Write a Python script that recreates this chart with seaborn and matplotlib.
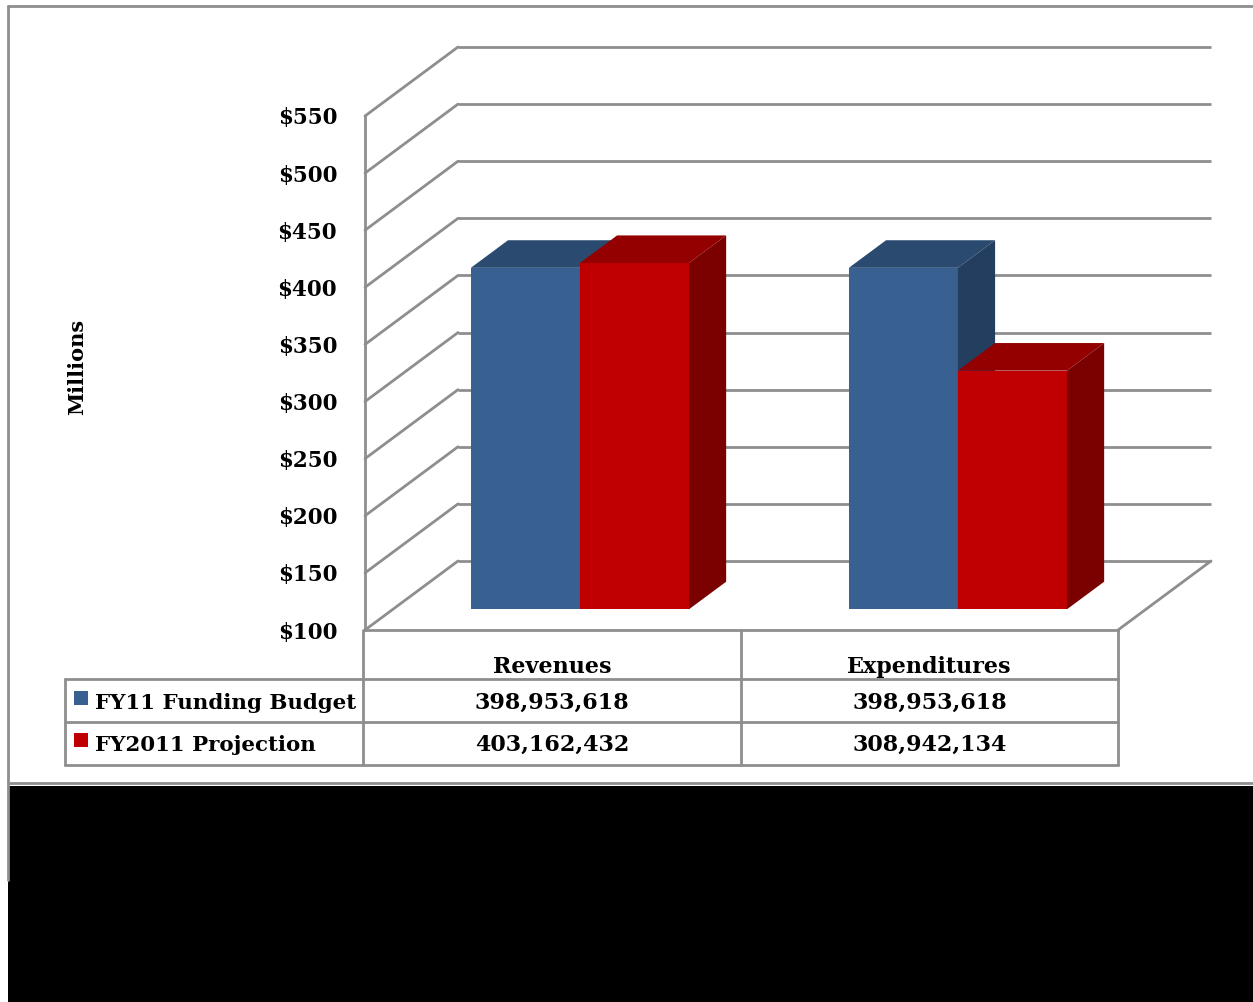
import numpy as np
import pandas as pd
import matplotlib
matplotlib.use("Agg")
import matplotlib.pyplot as plt
from matplotlib.patches import Polygon, Rectangle
import seaborn as sns

# ---- data -------------------------------------------------------------
categories = ["Revenues", "Expenditures"]
series = ["FY11 Funding Budget", "FY2011 Projection"]
budget_values = [398953618, 398953618]
projection_values = [403162432, 308942134]
y_ticks = [100, 150, 200, 250, 300, 350, 400, 450, 500, 550]
y_tick_labels = ["$" + str(t) for t in y_ticks]
axis_title = "Millions"

front_colors = {"FY11 Funding Budget": "#386191", "FY2011 Projection": "#C00000"}
top_colors = {"FY11 Funding Budget": "#2A4A70", "FY2011 Projection": "#940000"}
side_colors = {"FY11 Funding Budget": "#243E60", "FY2011 Projection": "#7B0000"}

df = pd.DataFrame({
    "category": categories * 2,
    "series": [series[0]] * 2 + [series[1]] * 2,
    "millions": [v / 1e6 for v in budget_values + projection_values],
})

# ---- layout (pixels) --------------------------------------------------
W, H = 1253, 1002
DPI = 100
BASE = 100
GRID = "#8e8e8e"
FONT = "DejaVu Serif"

sns.set_theme(style="white")
plt.rcParams["font.family"] = [FONT, "DejaVu Sans"]

fig = plt.figure(figsize=(W / DPI, H / DPI), dpi=DPI)

# background layer in pixel coordinates: frame, table, black band
bg = fig.add_axes([0, 0, 1, 1], zorder=0)
bg.set_xlim(0, W)
bg.set_ylim(H, 0)
bg.axis("off")

# plotting area (front plane of the 3-D box)
left_px, right_px, top_px, bottom_px = 365, 1118, 116, 630
ax = fig.add_axes([left_px / W, 1 - bottom_px / H,
                   (right_px - left_px) / W, (bottom_px - top_px) / H], zorder=2)
ax.patch.set_alpha(0)

cat_px = 378.0                       # pixels per category step
c0_px = 552.0                        # centre of first category
xlim = (-(c0_px - left_px) / cat_px, (right_px - c0_px) / cat_px)
px_per_m = (bottom_px - top_px) / (y_ticks[-1] - y_ticks[0])
DX = 93 / cat_px                     # box depth, x in data units
DY = 69 / px_per_m                   # box depth, y in data units
F0, F1 = 0.30, 0.70                  # bar depth span within the box

sns.barplot(data=df, x="category", y="millions", hue="series", order=categories,
            hue_order=series, palette=front_colors, saturation=1, width=0.577,
            gap=0, errorbar=None, linewidth=0, legend=False, ax=ax)

ax.set_xlim(*xlim)
ax.set_ylim(y_ticks[0], y_ticks[-1])

# walls: back gridlines, side diagonals, floor edge
for t in y_ticks:
    ax.plot([xlim[0] + DX, xlim[1] + DX], [t + DY, t + DY], color=GRID, lw=2.0,
            clip_on=False, zorder=1, solid_capstyle="butt")
    ax.plot([xlim[0], xlim[0] + DX], [t, t + DY], color=GRID, lw=2.0,
            clip_on=False, zorder=1)
ax.plot([xlim[1], xlim[1] + DX], [BASE, BASE + DY], color=GRID, lw=2.0,
        clip_on=False, zorder=1)

# extrude the seaborn bars into boxes
for k, (name, cont) in enumerate(zip(series, ax.containers)):
    z = 3 + k
    for p in cont.patches:
        h = p.get_height() - BASE
        x0 = p.get_x() + F0 * DX
        y0 = BASE + F0 * DY
        w = p.get_width()
        p.set_x(x0)
        p.set_y(y0)
        p.set_height(h)
        p.set_zorder(z)
        p.set_clip_on(False)
        ddx, ddy = (F1 - F0) * DX, (F1 - F0) * DY
        top = Polygon([(x0, y0 + h), (x0 + w, y0 + h), (x0 + w + ddx, y0 + h + ddy),
                       (x0 + ddx, y0 + h + ddy)], closed=True,
                      facecolor=top_colors[name], edgecolor="none", zorder=z, clip_on=False)
        side = Polygon([(x0 + w, y0), (x0 + w + ddx, y0 + ddy), (x0 + w + ddx, y0 + h + ddy),
                        (x0 + w, y0 + h)], closed=True,
                       facecolor=side_colors[name], edgecolor="none", zorder=z, clip_on=False)
        ax.add_patch(top)
        ax.add_patch(side)

# axes styling
for s in ["top", "right"]:
    ax.spines[s].set_visible(False)
for s in ["left", "bottom"]:
    ax.spines[s].set_color(GRID)
    ax.spines[s].set_linewidth(2.0)
    ax.spines[s].set_zorder(1)
ax.set_xticks([])
ax.set_xlabel("")
ax.set_ylabel("")
ax.set_yticks(y_ticks)
ax.set_yticklabels(y_tick_labels, fontsize=15.5, fontweight="bold", color="black",
                   family=[FONT, "DejaVu Sans"])
ax.tick_params(axis="y", length=0, pad=20)

fig.text(77 / W, 1 - 367 / H, axis_title, rotation=90, ha="center", va="center",
         fontsize=15, fontweight="bold", color="black", family=[FONT, "DejaVu Sans"])

# ---- outer frame and black band ---------------------------------------
bg.plot([8, W], [6, 6], color=GRID, lw=2.0)
bg.plot([8, 8], [6, 880], color=GRID, lw=2.0)
bg.plot([8, W], [783, 783], color=GRID, lw=2.0)
bg.add_patch(Rectangle((8, 786), W - 8, H - 786, facecolor="black", edgecolor="none"))

# ---- data table -------------------------------------------------------
col_edges = [65, 363, 741, 1118]
row_lines = [679, 722, 765]
for y in row_lines:
    bg.plot([col_edges[0], col_edges[-1]], [y, y], color=GRID, lw=2.0)
bg.plot([col_edges[0], col_edges[0]], [row_lines[0], row_lines[-1]], color=GRID, lw=2.0)
for x in col_edges[1:]:
    bg.plot([x, x], [630, row_lines[-1]], color=GRID, lw=2.0)

tkw = dict(fontweight="bold", color="black", family=[FONT, "DejaVu Sans"])
centers = [(col_edges[1] + col_edges[2]) / 2, (col_edges[2] + col_edges[3]) / 2]
for cx, name in zip(centers, categories):
    bg.text(cx, 673, name, ha="center", va="baseline", fontsize=16, **tkw)
baselines = [709, 751]
for yb, name, vals in zip(baselines, series, [budget_values, projection_values]):
    bg.add_patch(Rectangle((74, yb - 18), 14, 14, facecolor=front_colors[name],
                           edgecolor="none"))
    bg.text(95, yb, name, ha="left", va="baseline", fontsize=15.4, **tkw)
    for cx, v in zip(centers, vals):
        bg.text(cx, yb, f"{v:,}", ha="center", va="baseline", fontsize=16, **tkw)

fig.savefig("out.png", dpi=DPI)
